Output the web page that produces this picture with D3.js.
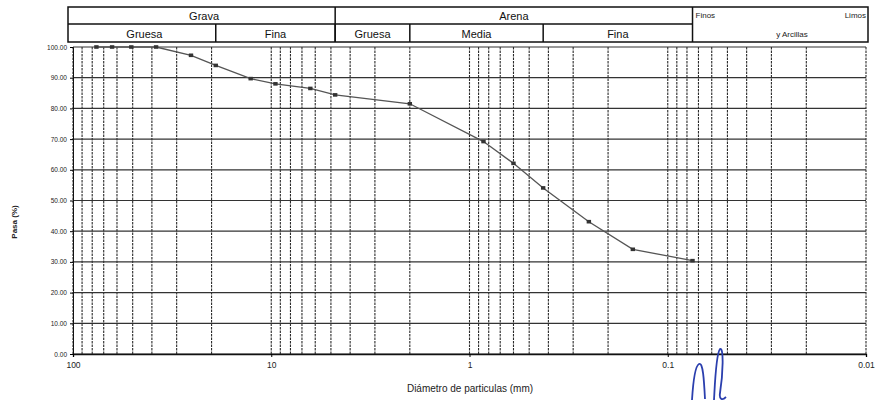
<!DOCTYPE html>
<html><head><meta charset="utf-8">
<script src="https://cdn.jsdelivr.net/npm/d3@7"></script>
<style>body{margin:0;background:#fff}svg{display:block}text{font-family:"Liberation Sans",Arial,sans-serif}</style>
</head><body>
<svg id="c" width="880" height="401"></svg>
<script>
// Data
const diameters = [76.2, 63.5, 50.8, 38.1, 25.4, 19.05, 12.7, 9.525, 6.35, 4.76, 2.0, 0.85, 0.6, 0.425, 0.25, 0.15, 0.075];
const passing   = [100, 100, 100, 100, 97.3, 94.0, 89.7, 88.0, 86.5, 84.4, 81.5, 69.2, 62.1, 54.1, 43.1, 34.1, 30.4];
const xTickValues = [100, 10, 1, 0.1, 0.01];
const xTickLabels = ["100", "10", "1", "0.1", "0.01"];
const yTickValues = [0,10,20,30,40,50,60,70,80,90,100];
const headerTop = [
  {label:"Grava", from:100, to:4.76},
  {label:"Arena", from:4.76, to:0.075}
];
const headerBottom = [
  {label:"Gruesa", from:100, to:19.05},
  {label:"Fina", from:19.05, to:4.76},
  {label:"Gruesa", from:4.76, to:2.0},
  {label:"Media", from:2.0, to:0.425},
  {label:"Fina", from:0.425, to:0.075}
];

const svg = d3.select("#c");
const x = d3.scaleLog().domain([100, 0.01]).range([73, 866]);
const y = d3.scaleLinear().domain([0, 100]).range([354, 47]);

// vertical log grid
const vLines = [];
for (let e = -2; e <= 1; e++) for (let k = 1; k <= 9; k++) vLines.push(k * Math.pow(10, e));
vLines.push(100);
const grid = svg.append("g");
grid.selectAll("line.v").data(vLines).join("line")
  .attr("x1", d => x(d)).attr("x2", d => x(d))
  .attr("y1", y(100)).attr("y2", y(0))
  .attr("stroke", "#2a2a2a").attr("stroke-width", 1.1)
  .attr("stroke-dasharray", "2.5,1");
grid.selectAll("line.h").data(yTickValues).join("line")
  .attr("x1", x(100)).attr("x2", x(0.01))
  .attr("y1", d => y(d)).attr("y2", d => y(d))
  .attr("stroke", "#333").attr("stroke-width", 1.2);

// axes
const yAxis = svg.append("g").attr("transform", `translate(${x(100)},0)`)
  .call(d3.axisLeft(y).tickValues(yTickValues).tickFormat(d3.format(".2f")).tickSize(3));
yAxis.select(".domain").attr("stroke", "#111");
yAxis.selectAll("text").attr("font-size", 6.5).attr("fill", "#222");

const xAxis = svg.append("g").attr("transform", `translate(0,${y(0)})`)
  .call(d3.axisBottom(x).tickValues(xTickValues).tickFormat((d, i) => xTickLabels[i]).tickSize(3));
xAxis.select(".domain").attr("stroke", "#111").attr("stroke-width", 1.3);
xAxis.selectAll("text").attr("font-size", 8.5).attr("fill", "#222").attr("dy", "0.9em");

// titles
svg.append("text").attr("transform", "translate(17,222) rotate(-90)")
  .attr("text-anchor", "middle").attr("font-size", 8).attr("font-weight", "bold").attr("fill", "#222")
  .text("Pasa (%)");
svg.append("text").attr("x", 470).attr("y", 392).attr("text-anchor", "middle")
  .attr("font-size", 10).attr("fill", "#222").text("Diámetro de particulas (mm)");

// header table
const hTop = 7, hMid = 24, hBot = 42, hLeft = 68, hRight = 868;
const hdr = svg.append("g").attr("stroke", "#111").attr("stroke-width", 1.5).attr("fill", "none");
hdr.append("rect").attr("x", hLeft).attr("y", hTop).attr("width", hRight - hLeft).attr("height", hBot - hTop);
hdr.append("line").attr("x1", hLeft).attr("x2", x(0.075)).attr("y1", hMid).attr("y2", hMid);
hdr.selectAll("line.t").data(headerTop.slice(1)).join("line")
  .attr("x1", d => x(d.from)).attr("x2", d => x(d.from)).attr("y1", hTop).attr("y2", hBot);
hdr.append("line").attr("x1", x(0.075)).attr("x2", x(0.075)).attr("y1", hTop).attr("y2", hBot);
hdr.selectAll("line.b").data(headerBottom.slice(1)).join("line")
  .attr("x1", d => x(d.from)).attr("x2", d => x(d.from)).attr("y1", hMid).attr("y2", hBot);

const cx = d => (Math.max(hLeft, x(d.from)) + x(d.to)) / 2;
svg.selectAll("text.ht").data(headerTop).join("text")
  .attr("x", cx).attr("y", 20).attr("text-anchor", "middle")
  .attr("font-size", 11).attr("fill", "#111").text(d => d.label);
svg.selectAll("text.hb").data(headerBottom).join("text")
  .attr("x", cx).attr("y", 37.5).attr("text-anchor", "middle")
  .attr("font-size", 11).attr("fill", "#111").text(d => d.label);
svg.append("text").attr("x", x(0.075) + 3).attr("y", 18).attr("font-size", 8).attr("fill", "#222").text("Finos");
svg.append("text").attr("x", hRight - 2).attr("y", 18).attr("text-anchor", "end").attr("font-size", 8).attr("fill", "#222").text("Limos");
svg.append("text").attr("x", 792).attr("y", 37).attr("text-anchor", "middle").attr("font-size", 8).attr("fill", "#222").text("y Arcillas");

// curve
const pts = diameters.map((d, i) => [d, passing[i]]);
svg.append("path").datum(pts)
  .attr("d", d3.line().x(d => x(d[0])).y(d => y(d[1])))
  .attr("fill", "none").attr("stroke", "#555").attr("stroke-width", 1.3);
svg.selectAll("rect.m").data(pts).join("rect")
  .attr("x", d => x(d[0]) - 2.2).attr("y", d => y(d[1]) - 1.8)
  .attr("width", 4.4).attr("height", 3.6).attr("fill", "#333");

// signature (decorative handwriting)
svg.append("path")
  .attr("d", "M692,400 C693,384 695,366 699,364 C703,362 704,380 705,399 M714,400 C715,382 716,354 720,349 C724,347 723,374 720,393 C719,399 722,401 726,397")
  .attr("fill", "none").attr("stroke", "#2b3fae").attr("stroke-width", 1.8);
</script>
</body></html>
